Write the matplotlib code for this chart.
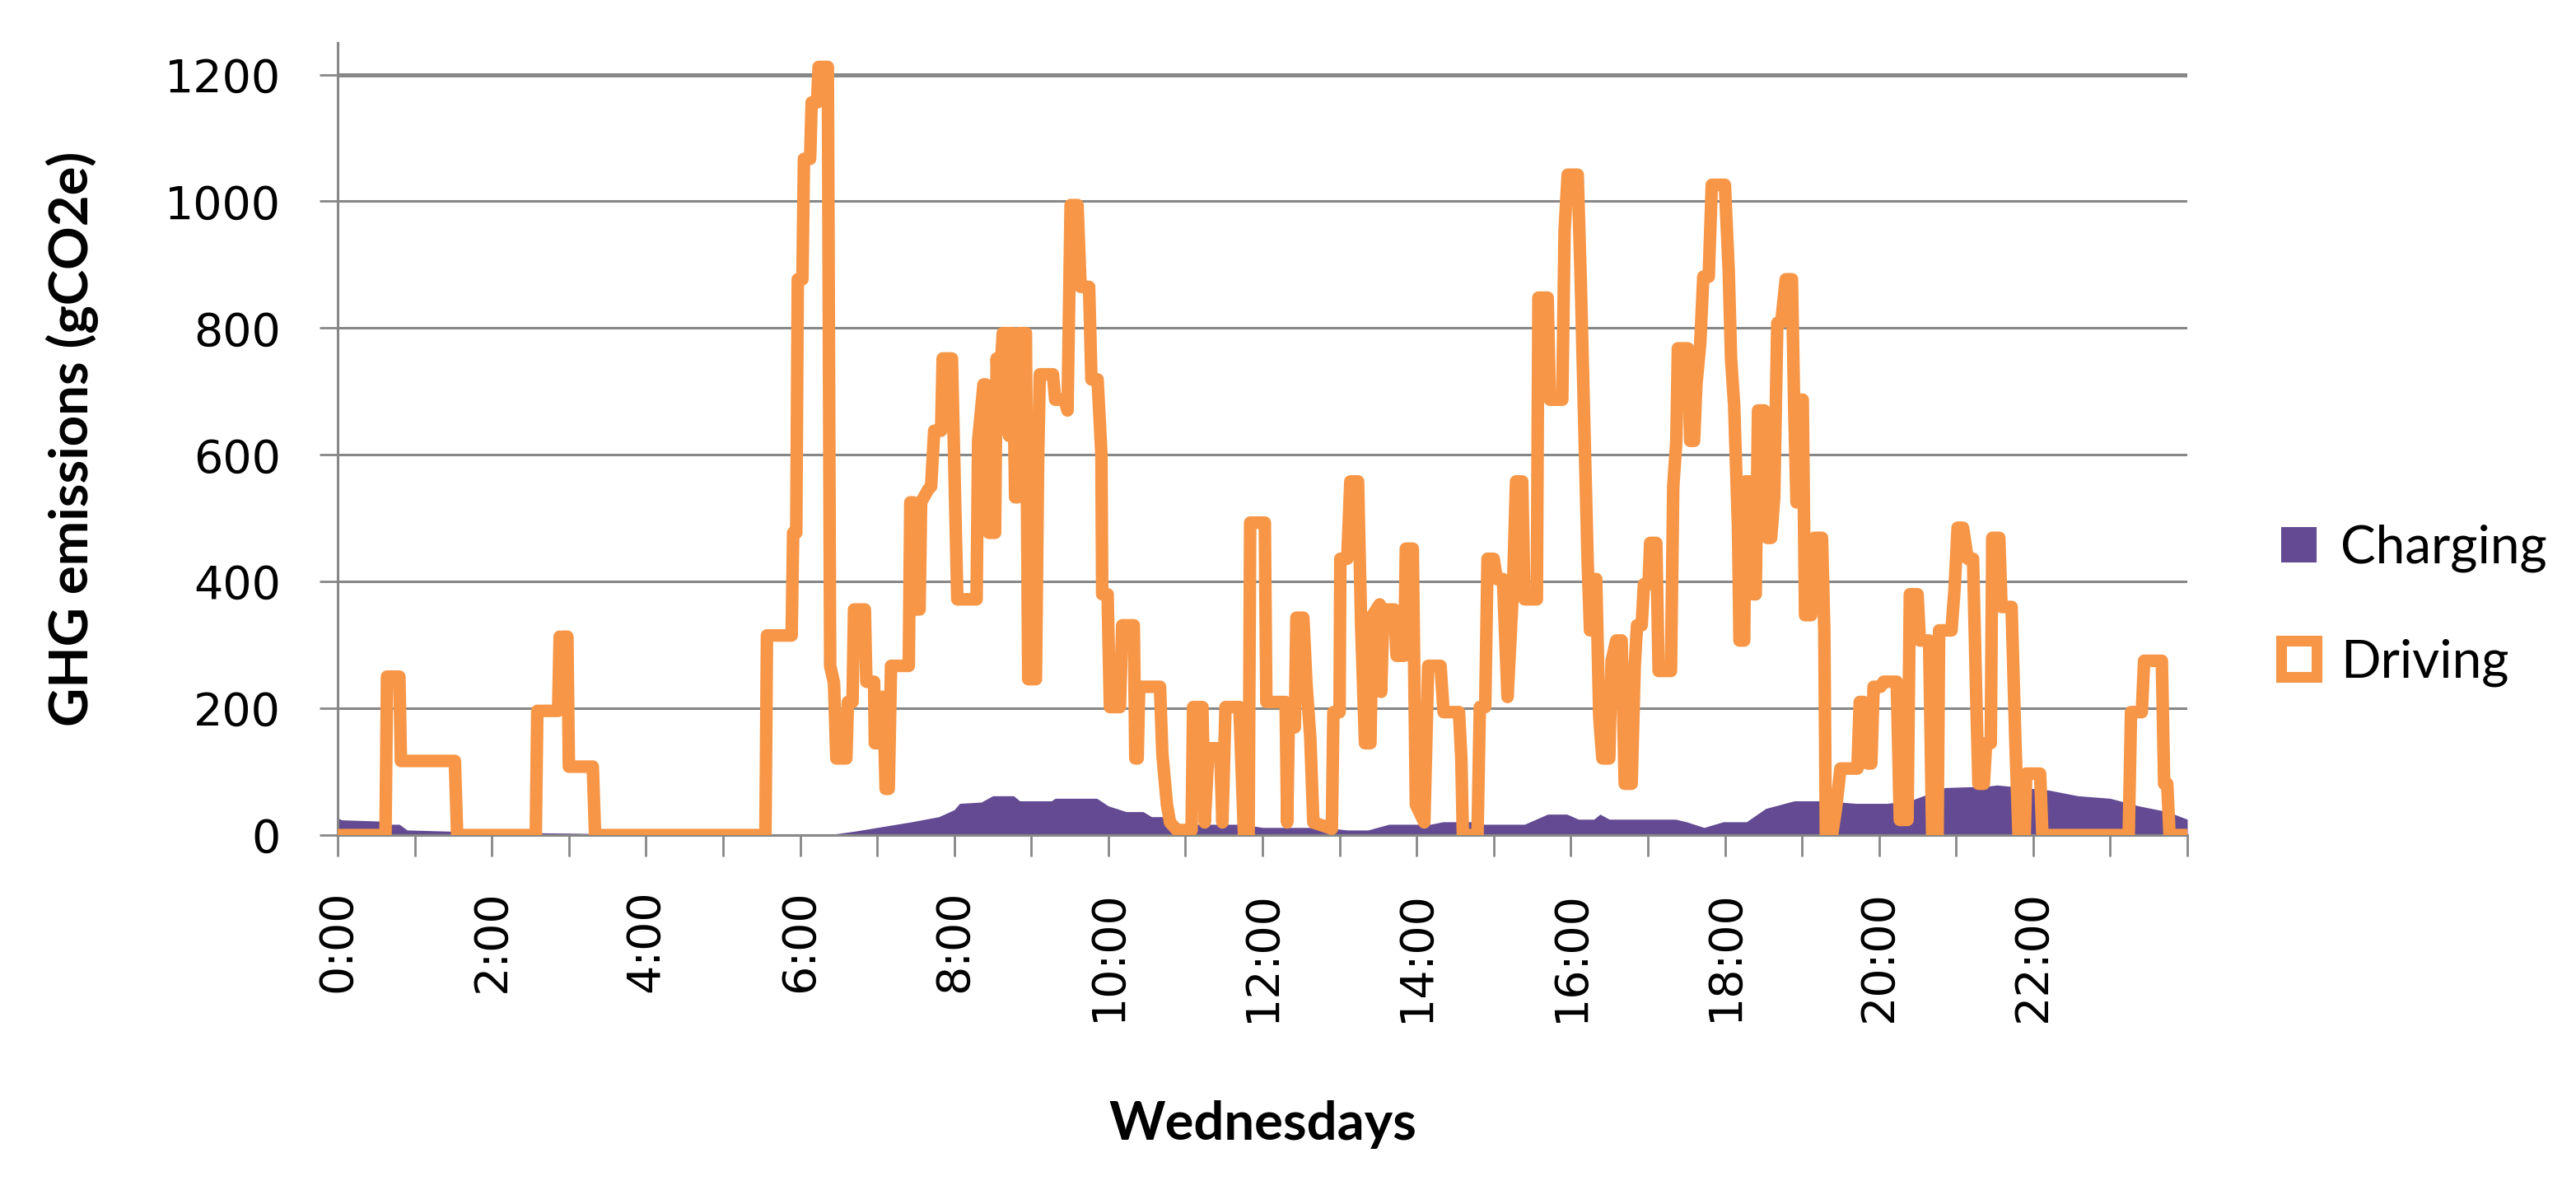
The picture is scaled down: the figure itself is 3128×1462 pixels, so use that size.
import matplotlib
matplotlib.use("Agg")
import matplotlib.pyplot as plt
from matplotlib.patches import Patch

# Driving emissions as (hour of day, gCO2e) vertices
drive_h = [0.00, 0.62, 0.64, 0.80, 0.82, 1.52, 1.55, 2.57, 2.59, 2.86, 2.88, 2.91, 2.93, 2.98,
           3.00, 3.31, 3.34, 5.55, 5.57, 5.89, 5.91, 5.95, 5.97, 6.03, 6.05, 6.13, 6.15, 6.22,
           6.24, 6.36, 6.39, 6.44, 6.47, 6.60, 6.62, 6.68, 6.70, 6.84, 6.86, 6.96, 6.97, 7.02,
           7.04, 7.08, 7.11, 7.15, 7.18, 7.41, 7.43, 7.47, 7.50, 7.55, 7.57, 7.66, 7.70, 7.74,
           7.83, 7.85, 7.97, 8.04, 8.29, 8.31, 8.38, 8.41, 8.45, 8.53, 8.55, 8.58, 8.63, 8.69,
           8.71, 8.73, 8.76, 8.79, 8.82, 8.84, 8.93, 8.96, 9.06, 9.09, 9.11, 9.28, 9.31, 9.43,
           9.47, 9.51, 9.60, 9.64, 9.75, 9.78, 9.86, 9.91, 9.92, 9.99, 10.02, 10.15, 10.18, 10.33,
           10.35, 10.38, 10.40, 10.67, 10.70, 10.76, 10.80, 10.89, 11.00, 11.08, 11.10, 11.22,
           11.25, 11.30, 11.45, 11.48, 11.52, 11.70, 11.76, 11.82, 11.84, 12.03, 12.05, 12.30,
           12.32, 12.34, 12.42, 12.44, 12.53, 12.57, 12.62, 12.66, 12.90, 12.92, 13.00, 13.01,
           13.10, 13.14, 13.24, 13.28, 13.33, 13.40, 13.43, 13.52, 13.54, 13.57, 13.71, 13.74,
           13.84, 13.86, 13.95, 13.99, 14.10, 14.15, 14.31, 14.35, 14.55, 14.58, 14.60, 14.79,
           14.82, 14.89, 14.92, 15.00, 15.04, 15.12, 15.18, 15.25, 15.29, 15.37, 15.40, 15.56,
           15.58, 15.70, 15.73, 15.89, 15.92, 15.96, 16.09, 16.13, 16.22, 16.25, 16.28, 16.33,
           16.37, 16.41, 16.50, 16.53, 16.59, 16.66, 16.70, 16.79, 16.83, 16.86, 16.92, 16.95,
           17.01, 17.03, 17.11, 17.14, 17.30, 17.33, 17.37, 17.39, 17.52, 17.55, 17.60, 17.63,
           17.68, 17.72, 17.79, 17.83, 18.00, 18.05, 18.08, 18.12, 18.17, 18.19, 18.25, 18.27,
           18.33, 18.37, 18.40, 18.43, 18.51, 18.55, 18.60, 18.64, 18.68, 18.73, 18.79, 18.87,
           18.90, 18.93, 18.97, 19.01, 19.04, 19.12, 19.16, 19.26, 19.29, 19.31, 19.39, 19.44,
           19.50, 19.72, 19.75, 19.80, 19.85, 19.90, 19.93, 20.02, 20.06, 20.23, 20.27, 20.37,
           20.40, 20.50, 20.53, 20.65, 20.69, 20.76, 20.78, 20.94, 20.98, 21.02, 21.09, 21.15,
           21.22, 21.26, 21.29, 21.36, 21.39, 21.45, 21.47, 21.56, 21.59, 21.72, 21.77, 21.81,
           21.89, 21.91, 22.09, 22.12, 23.24, 23.27, 23.41, 23.44, 23.67, 23.70, 23.74, 23.77,
           24.00]
drive_v = [0, 0, 250, 250, 117, 117, 0, 0, 196, 196, 313, 250, 313, 313,
           108, 108, 0, 0, 315, 315, 477, 477, 877, 877, 1067, 1067, 1156, 1156,
           1212, 1212, 267, 240, 121, 121, 210, 210, 356, 356, 242, 242, 145, 145,
           218, 218, 73, 73, 267, 267, 525, 525, 356, 356, 525, 545, 550, 638,
           638, 752, 752, 372, 372, 622, 711, 711, 477, 477, 752, 690, 792, 792,
           630, 792, 792, 533, 533, 792, 792, 246, 246, 606, 727, 727, 687, 687,
           670, 994, 994, 865, 865, 719, 719, 600, 380, 380, 202, 202, 331, 331,
           121, 121, 234, 234, 129, 48, 20, 8, 8, 8, 202, 202,
           20, 137, 137, 20, 202, 202, 0, 0, 493, 493, 210, 210,
           20, 170, 170, 343, 343, 240, 154, 20, 10, 194, 194, 436,
           436, 558, 558, 331, 145, 145, 347, 364, 226, 356, 356, 283,
           283, 452, 452, 48, 20, 267, 267, 194, 194, 121, 0, 0,
           202, 202, 436, 436, 404, 404, 218, 388, 558, 558, 372, 372,
           848, 848, 687, 687, 954, 1042, 1042, 873, 428, 323, 404, 404,
           186, 121, 121, 275, 307, 307, 81, 81, 267, 331, 331, 396,
           396, 461, 461, 259, 259, 550, 622, 768, 768, 622, 622, 711,
           776, 881, 881, 1026, 1026, 889, 752, 679, 485, 307, 307, 558,
           558, 380, 380, 670, 670, 469, 469, 533, 808, 808, 877, 877,
           670, 525, 687, 687, 347, 347, 469, 469, 323, 0, 0, 40,
           105, 105, 210, 210, 113, 113, 234, 234, 242, 242, 24, 24,
           380, 380, 307, 307, 0, 0, 323, 323, 388, 485, 485, 436,
           436, 226, 81, 81, 145, 145, 469, 469, 360, 360, 145, 0,
           0, 97, 97, 0, 0, 194, 194, 275, 275, 81, 81, 0,
           0]

# Charging emissions (hour of day, gCO2e)
charge_h = [0.00, 0.05, 0.55, 0.60, 0.80, 0.90, 1.50, 2.30, 3.00, 3.50, 4.00, 6.40, 6.70, 7.00,
            7.45, 7.80, 8.00, 8.07, 8.35, 8.50, 8.77, 8.85, 9.26, 9.31, 9.85, 10.00, 10.23,
            10.45, 10.56, 10.77, 10.94, 11.75, 12.00, 12.80, 13.10, 13.37, 13.64, 14.18, 14.34,
            14.72, 14.88, 15.40, 15.70, 15.95, 16.10, 16.30, 16.38, 16.50, 17.36, 17.50, 17.73,
            17.98, 18.28, 18.53, 18.90, 19.30, 19.70, 20.10, 20.40, 20.86, 21.40, 21.53, 22.20,
            22.58, 23.00, 23.37, 23.74, 24.00]
charge_v = [27, 24, 22, 17, 17, 8, 6, 4, 3, 2, 1, 1, 6, 12,
            21, 29, 40, 50, 52, 62, 62, 54, 54, 58, 58, 46, 37,
            37, 29, 29, 17, 17, 12, 12, 8, 8, 17, 17, 21,
            21, 17, 17, 33, 33, 25, 25, 33, 25, 25, 21, 12,
            21, 21, 42, 54, 54, 50, 50, 54, 75, 77, 79, 71,
            62, 58, 46, 37, 25]

hours = list(range(0, 25))
hour_labels = [f"{h}:00" if h % 2 == 0 and h < 24 else "" for h in hours]
y_ticks = [0, 200, 400, 600, 800, 1000, 1200]

purple = '#634A92'
orange = '#F79646'
grey = '#878787'

fig = plt.figure(figsize=(31.28, 14.62), dpi=100)
ax = fig.add_axes([0.1311, 0.3064, 0.7180, 0.658])

ax.fill_between(charge_h, charge_v, color=purple, lw=0, zorder=2)
ax.plot(drive_h, drive_v, color=orange, lw=11, solid_joinstyle='round', zorder=3)

ax.set_xlim(0, 24)
ax.set_ylim(0, 1250)
ax.set_xticks(hours)
ax.set_xticklabels(hour_labels, family='DejaVu Sans')
ax.set_yticks(y_ticks)
ax.set_yticklabels([str(v) for v in y_ticks], family='DejaVu Sans')
ax.tick_params(axis='x', length=19, width=2, color=grey, pad=29, labelsize=40,
               labelrotation=90)
ax.tick_params(axis='y', length=16, width=2, color=grey, pad=34, labelsize=40)

ax.grid(axis='y', color=grey, lw=2.2)
ax.yaxis.get_gridlines()[-1].set_linewidth(3.6)
ax.set_axisbelow(True)
for s in ['top', 'right']:
    ax.spines[s].set_visible(False)
for s in ['left', 'bottom']:
    ax.spines[s].set_color(grey)
    ax.spines[s].set_linewidth(2.2)

ax.set_ylabel("GHG emissions (gCO2e)", family='Lato', weight='bold', fontsize=47)
ax.set_xlabel("Wednesdays", family='Lato', weight='bold', fontsize=47)
ax.yaxis.set_label_coords(-0.129, 0.5)
ax.xaxis.set_label_coords(0.5, -0.335)

handles = [Patch(facecolor=purple, edgecolor='none', label='Charging'),
           Patch(facecolor='white', edgecolor=orange, linewidth=9.4, label='Driving')]
fig.legend(handles=handles, loc='center left', bbox_to_anchor=(0.8856, 0.497),
           frameon=False, borderpad=0, borderaxespad=0, handlelength=0.67,
           handleheight=0.67, handletextpad=0.45, labelspacing=1.25,
           prop=dict(family='Lato', size=46))

fig.savefig("out.png", dpi=100)
